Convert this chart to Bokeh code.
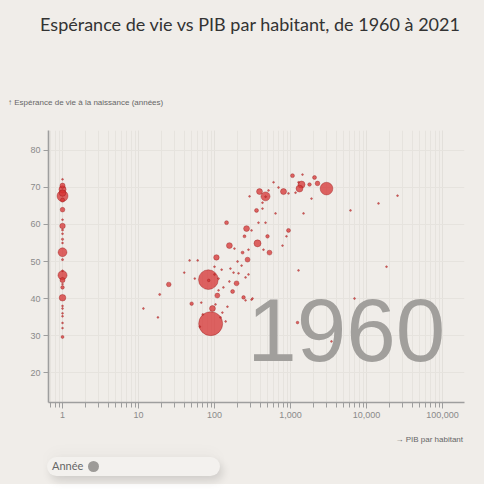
import numpy as np
from bokeh.plotting import figure
from bokeh.models import (Label, NumeralTickFormatter, SingleIntervalTicker,
                          LogTicker, ColumnDataSource, Range1d, Div)
from bokeh.layouts import column
from bokeh.embed import file_html
from bokeh.resources import INLINE

# ---- data (1960) ----
gdp = [1062, 1438, 2070, 1396, 1313, 1274, 1778, 2265, 2976, 1164,
       809, 941, 695, 598, 514, 391, 469, 470, 428, 428,
       357, 635, 379, 469, 1889, 1483, 941, 885, 498, 368,
       441, 529, 785, 307, 6155, 14380, 25590, 1274, 18330, 6950,
       1236, 3460, 316, 289, 144, 264, 248, 157, 183, 234,
       280, 272, 106, 47, 60, 100, 201, 227, 162, 124,
       178, 40, 83, 84, 100, 113, 55, 25, 19, 157,
       207, 256, 280, 195, 131, 113, 173, 109, 241, 307,
       256, 148, 67, 50, 94, 127, 70, 103, 140, 120,
       89, 64, 18, 11.6]
life = [73.2, 73.5, 72.7, 70.8, 69.7, 71.4, 70.8, 71.1, 69.7, 68.6,
        68.9, 68.4, 70.0, 71.4, 69.2, 68.9, 67.6, 67.5, 65.9, 64.3,
        63.8, 63.0, 60.5, 60.5, 67.0, 63.0, 58.4, 56.8, 56.8, 54.9,
        53.2, 52.4, 54.3, 58.4, 63.8, 65.7, 67.8, 47.6, 48.6, 40.0,
        33.5, 28.4, 40.0, 67.6, 60.5, 58.9, 56.8, 54.3, 53.5, 52.4,
        53.2, 50.5, 51.1, 50.3, 50.3, 48.6, 50.0, 48.9, 48.1, 47.8,
        47.0, 47.0, 45.1, 44.9, 46.5, 45.4, 45.4, 43.8, 41.1, 44.6,
        46.8, 45.7, 46.5, 44.1, 43.0, 42.2, 41.9, 40.8, 40.3, 39.7,
        39.5, 37.8, 38.9, 38.6, 37.3, 36.2, 35.7, 38.4, 33.8, 34.9,
        33.2, 32.4, 34.9, 37.3]
pop = [18, 3, 18, 57, 55, 3, 15, 25, 186, 3,
       42, 3, 3, 0.5, 3, 40, 93, 1, 3, 2,
       18, 0.5, 0.5, 2, 0.3, 0.3, 18, 0.5, 15, 57,
       3, 28, 0.5, 2, 0.1, 0.3, 0.1, 0.5, 0.3, 0.5,
       8, 1, 1, 0.3, 18, 40, 10, 40, 2, 10,
       3, 28, 35, 0.5, 0.5, 3, 3, 3, 3, 2,
       2, 0.5, 450, 8, 3, 3, 2, 25, 5, 0.5,
       0.5, 0.5, 0.5, 28, 3, 3, 18, 28, 15, 2,
       0.5, 3, 0.5, 15, 40, 3, 3, 0.5, 3, 2,
       667, 3, 0.3, 0.3]

# countries without GDP data, shown at x = 1
nogdp_life = [72.2, 70.5, 69.5, 68.5, 67.7, 66.6, 64.0, 61.3, 59.6, 58.5,
              57.5, 56.0, 55.0, 52.5, 50.5, 47.5, 46.3, 45.0, 43.9, 43.0,
              40.2, 38.0, 37.3, 36.0, 35.2, 33.4, 32.0, 29.6]
nogdp_pop = [3, 30, 60, 50, 140, 20, 25, 2, 35, 5,
             4, 6, 2, 90, 5, 3, 95, 30, 4, 15,
             50, 2, 3, 1.5, 1.5, 0.5, 0.5, 10]

year = "1960"
title_text = "Espérance de vie vs PIB par habitant, de 1960 à 2021"
y_label = "↑ Espérance de vie à la naissance (années)"
x_label = "→ PIB par habitant"
slider_label = "Année"

# ---- build ----
BG = "#f0ede9"
xs = np.array(gdp + [1.0] * len(nogdp_life), dtype=float)
ys = np.array(life + nogdp_life, dtype=float)
ps = np.array(pop + nogdp_pop, dtype=float)
sizes = np.maximum(1.8, 0.93 * np.sqrt(ps))
order = np.argsort(-ps)
src = ColumnDataSource(dict(x=xs[order], y=ys[order], s=sizes[order]))

p = figure(width=484, height=312, x_axis_type="log",
           x_range=Range1d(0.654, 194700), y_range=Range1d(11.9, 85.4),
           output_backend="svg", toolbar_location=None,
           min_border_left=48, min_border_right=20, min_border_top=12, min_border_bottom=28,
           background_fill_color=BG, border_fill_color=BG, outline_line_color=None)

p.xaxis.ticker = LogTicker(num_minor_ticks=10)
p.xaxis.formatter = NumeralTickFormatter(format="0,0")
p.yaxis.ticker = SingleIntervalTicker(interval=10, num_minor_ticks=0)
p.ygrid.ticker = SingleIntervalTicker(interval=10)

for ax in (p.xaxis[0], p.yaxis[0]):
    ax.axis_line_color = "#9e9e9e"
    ax.axis_line_width = 1.6
    ax.major_tick_line_color = "#9e9e9e"
    ax.minor_tick_line_color = "#9e9e9e"
    ax.major_tick_in = 0
    ax.minor_tick_in = 0
    ax.major_label_text_color = "#8a8a8a"
    ax.major_label_text_font = "Liberation Sans"
    ax.major_label_text_font_size = "9px"
p.xaxis.major_tick_out = 6
p.xaxis.minor_tick_out = 5
p.yaxis.major_tick_out = 5
p.yaxis.minor_tick_out = 0
p.xaxis.major_label_standoff = 3
p.yaxis.major_label_standoff = 3

p.xgrid.grid_line_color = "#e3e0db"
p.xgrid.minor_grid_line_color = "#e6e3de"
p.ygrid.grid_line_color = "#e6e3de"

# big year label (anchored in data space, lower right of the plot)
p.add_layout(Label(x=109000, y=31.5, text=year,
                   text_align="right", text_baseline="alphabetic",
                   text_font="Liberation Sans", text_font_size="89px",
                   text_color="#a19f9c"))

p.scatter("x", "y", size="s", source=src, fill_color="#d63232", fill_alpha=0.75,
          line_color="#8e1515", line_alpha=0.6, line_width=0.6)

top_html = f"""<div style="position:relative;width:484px;height:118px;background:{BG};">
<div style="position:absolute;left:0;width:500px;top:15px;text-align:center;font-family:Lato;font-size:18px;line-height:18px;color:#333;white-space:nowrap;">{title_text}</div>
<div style="position:absolute;left:8px;top:99px;font-family:'Liberation Sans';font-size:8px;line-height:8px;color:#666;white-space:nowrap;">{y_label}</div>
</div>"""
bottom_html = f"""<div style="position:relative;width:484px;height:54px;background:{BG};">
<div style="position:absolute;right:21px;top:6px;font-family:'Liberation Sans';font-size:8px;line-height:8px;color:#666;white-space:nowrap;">{x_label}</div>
<div style="position:absolute;left:47px;top:27px;width:173px;height:19px;border-radius:10px;background:#f3f1ee;box-shadow:3px 5px 9px rgba(0,0,0,0.13), 0 -6px 14px rgba(0,0,0,0.025);"></div>
<div style="position:absolute;left:52px;top:30px;font-family:Lato;font-size:11px;line-height:12px;color:#666;">{slider_label}</div>
<div style="position:absolute;left:88px;top:31px;width:11px;height:11px;border-radius:6px;background:#9d9b98;"></div>
</div>"""

top_div = Div(text=top_html, width=484, height=118, margin=(0, 0, 0, 0))
bottom_div = Div(text=bottom_html, width=484, height=54, margin=(0, 0, 0, 0))

layout = column(top_div, p, bottom_div, spacing=0, styles={"background-color": BG})

open("out.html", "w").write(file_html(layout, INLINE))
